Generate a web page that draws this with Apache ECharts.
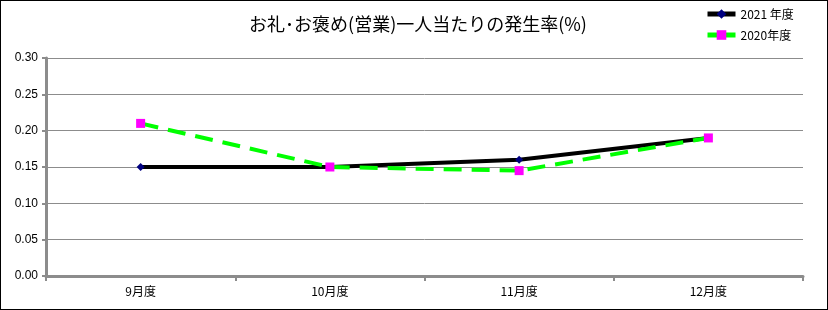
<!DOCTYPE html>
<html><head><meta charset="utf-8">
<script src="https://cdn.jsdelivr.net/npm/echarts@6/dist/echarts.min.js"></script>
<style>html,body{margin:0;padding:0;background:#fff}#c{width:828px;height:310px;box-sizing:border-box;border:1px solid #000}</style>
</head><body><div id="c"></div>
<script>
const categories = ['9月度','10月度','11月度','12月度'];
const yTicks = [0, 0.05, 0.10, 0.15, 0.20, 0.25, 0.30];
const series2021 = [0.15, 0.15, 0.16, 0.19];
const series2020 = [0.21, 0.15, 0.145, 0.19];
const titleText = 'お礼･お褒め(営業)一人当たりの発生率(%)';
const ff = '"Noto Sans CJK JP", "Liberation Sans", sans-serif';
const chart = echarts.init(document.getElementById('c'), null, {renderer:'canvas'});
chart.setOption({
  animation:false,
  title:{text:titleText,left:412,top:9,textAlign:'center',textStyle:{fontFamily:ff,fontSize:18,fontWeight:'normal',color:'#000'}},
  legend:{orient:'vertical',left:699,top:2,itemGap:9,itemWidth:28,itemHeight:12,
    lineStyle:{width:5,type:'solid'},
    textStyle:{fontFamily:ff,fontSize:12,color:'#000'},
    data:['2021 年度','2020年度']},
  grid:{left:45,right:24,top:57,bottom:33},
  xAxis:{type:'category',data:categories,boundaryGap:true,
    axisLine:{lineStyle:{color:'#8c8c8c',width:3}},
    axisTick:{show:true,inside:false,length:5,lineStyle:{color:'#8c8c8c',width:2}},
    axisLabel:{fontFamily:ff,fontSize:12,color:'#000',margin:9}},
  yAxis:{type:'value',min:0,max:0.3,interval:0.05,
    axisLine:{show:true,lineStyle:{color:'#8c8c8c',width:3}},
    axisTick:{show:true,length:4,lineStyle:{color:'#8c8c8c',width:2}},
    splitLine:{lineStyle:{color:'#8c8c8c',width:1}},
    axisLabel:{fontFamily:'"Liberation Sans", sans-serif',fontSize:12,color:'#000',margin:8,formatter:v=>v.toFixed(2)}},
  series:[
    {name:'2021 年度',type:'line',data:series2021,symbol:'diamond',symbolSize:8,
      itemStyle:{color:'#000080'},lineStyle:{color:'#000',width:4},z:2},
    {name:'2020年度',type:'line',data:series2020,symbol:'rect',symbolSize:9,
      itemStyle:{color:'#ff00ff'},lineStyle:{color:'#00ff00',width:4,type:[18,10]},z:3}
  ]
});
</script></body></html>
